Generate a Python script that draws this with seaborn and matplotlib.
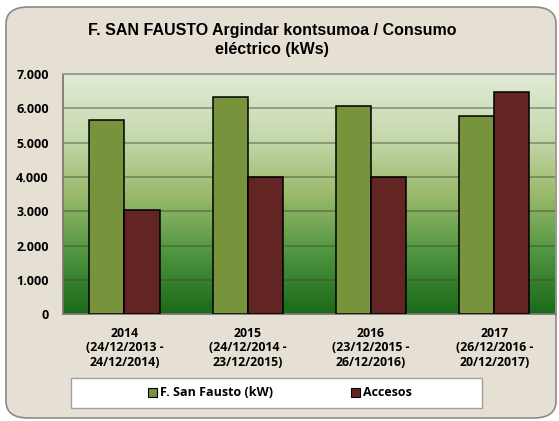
import matplotlib
matplotlib.use("Agg")
import matplotlib.pyplot as plt
import numpy as np
import pandas as pd
import seaborn as sns
from matplotlib.colors import LinearSegmentedColormap
from matplotlib.patches import FancyBboxPatch, Patch, Rectangle
from matplotlib.ticker import FuncFormatter

# data
years = ["2014", "2015", "2016", "2017"]
periods = [
    "(24/12/2013 -\n24/12/2014)",
    "(24/12/2014 -\n23/12/2015)",
    "(23/12/2015 -\n26/12/2016)",
    "(26/12/2016 -\n20/12/2017)",
]
series = ["F. San Fausto (kW)", "Accesos"]
san_fausto = [5650, 6330, 6070, 5780]
accesos = [3040, 4010, 4010, 6480]
colors = ["#77933c", "#632523"]

df = pd.DataFrame({
    "year": years * 2,
    "serie": [series[0]] * 4 + [series[1]] * 4,
    "value": san_fausto + accesos,
})

sns.set_theme(style="white")
plt.rcParams["font.family"] = ["Open Sans", "DejaVu Sans"]
plt.rcParams["text.color"] = "black"
plt.rcParams["xtick.color"] = "black"
plt.rcParams["ytick.color"] = "black"

fig = plt.figure(figsize=(5.59, 4.21), dpi=100)
fig.patch.set_facecolor("white")

# rounded beige card behind everything
card = FancyBboxPatch((6 / 559, 3 / 421), 550 / 559, 411 / 421,
                      boxstyle="round,pad=0,rounding_size=0.04",
                      transform=fig.transFigure, facecolor="#e6dfd3",
                      edgecolor="#8a8a8a", linewidth=1.2, zorder=-10)
fig.patches.append(card)

ax = fig.add_axes([62.7 / 559, 1 - 314.3 / 421, 493.3 / 559, 240.3 / 421])

# green gradient plot area
cmap = LinearSegmentedColormap.from_list(
    "bg", ["#1a6a18", "#4f9440", "#9cba6c", "#c8dab0", "#e0ebd6"])
grad = np.linspace(0, 1, 256).reshape(-1, 1)
ax.imshow(grad, aspect="auto", cmap=cmap, origin="lower",
          extent=[-0.5, 3.5, 0, 7000], zorder=0)

sns.barplot(data=df, x="year", y="value", hue="serie", palette=colors,
            width=0.57, edgecolor="black", linewidth=1.1, saturation=1,
            legend=False, ax=ax, zorder=3)

ax.set_xlim(-0.5, 3.5)
ax.set_ylim(0, 7000)
ax.set_yticks(range(0, 7001, 1000))
ax.yaxis.set_major_formatter(FuncFormatter(lambda v, p: f"{int(v):,}".replace(",", ".")))
for y in range(1000, 7001, 1000):
    ax.axhline(y, color="#3f4a36", alpha=0.55, linewidth=1.1, zorder=1)

ax.set_xticks(range(4))
ax.set_xticklabels([f"{y}\n{p}" for y, p in zip(years, periods)],
                   fontsize=8.8, fontweight="bold", linespacing=1.15)
ax.set_xticks([0.5, 1.5, 2.5], minor=True)
ax.tick_params(axis="x", which="major", length=0, pad=9)
ax.tick_params(axis="x", which="minor", length=4, color="#888888", width=1)
ax.tick_params(axis="y", length=4, color="#888888", labelcolor="black", width=1, pad=6)
for lab in ax.get_yticklabels():
    lab.set_fontsize(9)
    lab.set_fontweight("bold")
ax.set_xlabel("")
ax.set_ylabel("")

for side in ["top", "right"]:
    ax.spines[side].set_color("#9a9a9a")
for side in ["left", "bottom"]:
    ax.spines[side].set_color("#777777")

fig.text(272 / 559, 1 - 40 / 421, "F. SAN FAUSTO Argindar kontsumoa / Consumo\neléctrico (kWs)",
         ha="center", va="center", fontsize=11.5, fontweight="bold", color="black",
         family=["Liberation Sans", "DejaVu Sans"], linespacing=1.3)

# legend box
fig.patches.append(Rectangle((71 / 559, 1 - 408 / 421), 411 / 559, 30 / 421,
                             transform=fig.transFigure, facecolor="white",
                             edgecolor="#a0a0a0", linewidth=1))
handles = [Patch(facecolor=c, edgecolor="black", linewidth=0.8) for c in colors]
fig.legend(handles, series, loc="center", bbox_to_anchor=(280 / 559, 1 - 393 / 421),
           ncol=2, frameon=False, prop={"weight": "bold", "size": 9},
           handlelength=0.7, handleheight=0.7, handletextpad=0.25,
           columnspacing=6.2, labelcolor="black")

fig.savefig("out.png", dpi=100)
